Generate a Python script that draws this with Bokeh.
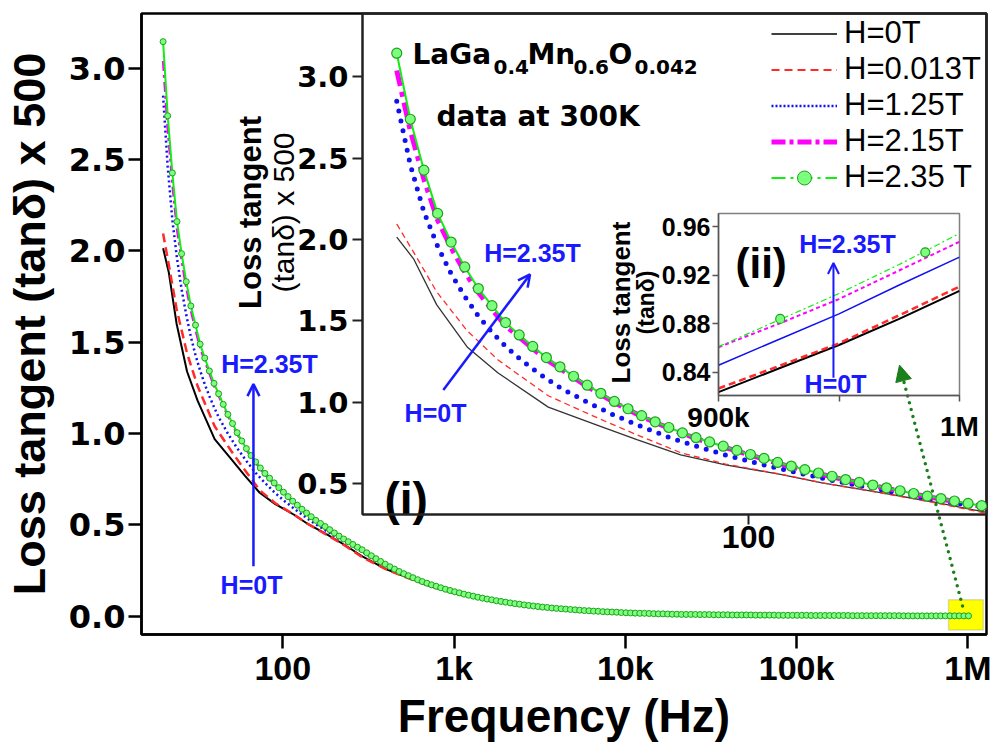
import math
from bokeh.plotting import figure
from bokeh.models import (Range1d, FixedTicker, PrintfTickFormatter, Label, Arrow, OpenHead, NormalHead,
                          BoxAnnotation, Legend, LegendItem, GridBox)
from bokeh.embed import file_html
from bokeh.resources import INLINE

# ---------------- data ----------------
# frequency sweep of the H=2.35 T curve (point list of the instrument: mantissas x decades)
SWEEP_MANTISSA = [2.000, 2.128, 2.265, 2.411, 2.565, 2.730, 2.905, 3.092, 3.290, 3.502, 3.726, 3.966,
                  4.220, 4.491, 4.780, 5.087, 5.413, 5.761, 6.131, 6.524, 6.943, 7.389, 7.864, 8.368,
                  8.906, 9.478, 10.086, 10.734, 11.423, 12.156, 12.937, 13.768, 14.652, 15.592, 16.594,
                  17.659, 18.793]
SWEEP_DECADES = [10, 100, 1000, 10000, 100000]
FREQ_SWEEP = [m * d for d in SWEEP_DECADES for m in SWEEP_MANTISSA][:175]

H235T = [3.146, 2.740, 2.427, 2.161, 1.985, 1.832, 1.699, 1.594, 1.490, 1.414, 1.343, 1.275, 1.218,
         1.160, 1.105, 1.055, 1.005, 0.960, 0.918, 0.880, 0.845, 0.812, 0.782, 0.756, 0.730, 0.704,
         0.679, 0.655, 0.630, 0.608, 0.586, 0.565, 0.545, 0.525, 0.508, 0.491, 0.474,
         0.456, 0.439, 0.423, 0.408, 0.393, 0.378, 0.364, 0.347, 0.331, 0.315, 0.300, 0.285, 0.271,
         0.258, 0.245, 0.233, 0.222, 0.211, 0.200, 0.190, 0.181, 0.172, 0.164, 0.156, 0.148, 0.141,
         0.134, 0.128, 0.121, 0.115, 0.110, 0.104, 0.099, 0.094, 0.090, 0.085, 0.081,
         0.077, 0.073, 0.069, 0.066, 0.062, 0.059, 0.056, 0.053, 0.050, 0.048, 0.045, 0.043, 0.041,
         0.039, 0.037, 0.035, 0.033, 0.031, 0.030, 0.028, 0.027, 0.025, 0.024, 0.023, 0.022, 0.020,
         0.019, 0.018, 0.017, 0.016, 0.016, 0.015, 0.014, 0.013, 0.013, 0.012, 0.011,
         0.011, 0.010, 0.010, 0.010, 0.010, 0.009, 0.009, 0.009, 0.008, 0.008, 0.008, 0.008, 0.007,
         0.007, 0.007, 0.007, 0.007, 0.006, 0.006, 0.006, 0.006, 0.006, 0.005, 0.005, 0.005, 0.005,
         0.005, 0.005, 0.005, 0.004, 0.004, 0.004, 0.004, 0.004, 0.004, 0.004, 0.004,
         0.004, 0.003, 0.003, 0.003, 0.003, 0.003, 0.003, 0.003, 0.003, 0.003, 0.003, 0.003, 0.002,
         0.002, 0.002, 0.002, 0.002, 0.002, 0.002, 0.002, 0.002, 0.002, 0.002, 0.002, 0.002, 0.002,
         0.002]

FREQ_A = [20, 21.6, 24.0, 27.6, 31.8, 40, 50, 60, 73.3, 90, 115.7, 140, 182.9, 230, 297, 400, 500,
          700, 1000, 1500, 2000, 3000, 5000, 7000, 10000, 20000, 50000, 100000, 200000, 500000, 1000000]
H0T = [2.015, 1.882, 1.60, 1.34, 1.18, 0.97, 0.86, 0.77, 0.676, 0.615, 0.557, 0.505, 0.445, 0.39,
       0.323, 0.258, 0.222, 0.170, 0.127, 0.091, 0.072, 0.051, 0.033, 0.025, 0.018, 0.010, 0.006,
       0.004, 0.003, 0.002, 0.002]
H0013T = [2.096, 1.923, 1.68, 1.44, 1.26, 1.04, 0.905, 0.80, 0.69, 0.62, 0.558, 0.505, 0.443, 0.387,
          0.318, 0.258, 0.220, 0.169, 0.126, 0.091, 0.072, 0.051, 0.033, 0.025, 0.018, 0.010, 0.006,
          0.004, 0.003, 0.002, 0.002]

FREQ_B = [20.0, 21.28, 22.65, 24.11, 25.65, 27.30, 29.05, 30.92, 32.90, 35.02, 37.26, 39.66, 42.20,
          47.80, 54.13, 61.31, 69.43, 78.64, 89.06, 100.86, 114.23, 129.37, 146.52, 165.94, 187.93,
          212.83, 241.04, 272.98, 309.18, 396.6, 508.7, 652.4, 836.8, 1000, 1500, 2000, 3000, 5000,
          7000, 10000, 20000, 50000, 100000, 200000, 500000, 1000000]
H125T = [2.85, 2.46, 2.17, 1.96, 1.79, 1.65, 1.53, 1.43, 1.345, 1.27, 1.205, 1.145, 1.09, 1.0, 0.92,
         0.85, 0.785, 0.73, 0.68, 0.635, 0.595, 0.557, 0.52, 0.487, 0.456, 0.425, 0.396, 0.367, 0.338,
         0.278, 0.229, 0.187, 0.153, 0.132, 0.095, 0.075, 0.053, 0.034, 0.025, 0.018, 0.011, 0.0066,
         0.0047, 0.0034, 0.0023, 0.0017]
H215T = [3.04, 2.67, 2.37, 2.12, 1.95, 1.80, 1.675, 1.57, 1.47, 1.40, 1.33, 1.262, 1.208, 1.097,
         0.998, 0.912, 0.84, 0.777, 0.725, 0.675, 0.625, 0.582, 0.541, 0.504, 0.471, 0.436, 0.405,
         0.375, 0.344, 0.282, 0.232, 0.189, 0.155, 0.134, 0.096, 0.076, 0.053, 0.035, 0.026, 0.019,
         0.011, 0.0067, 0.0048, 0.0035, 0.0024, 0.0018]

# inset (ii): 900 kHz - 1 MHz, tan(delta)
ZOOM_FREQ = [900000, 925000, 950000, 975000, 1000000]
ZOOM_H0T = [0.8235, 0.843, 0.8624, 0.884, 0.9072]
ZOOM_H0013T = [0.8265, 0.845, 0.8638, 0.887, 0.9107]
ZOOM_H125T = [0.8457, 0.867, 0.8882, 0.912, 0.9351]
ZOOM_H215T = [0.8606, 0.880, 0.9004, 0.924, 0.9478]
ZOOM_H235T = [0.8611, 0.883, 0.9050, 0.929, 0.9546]
ZOOM_MARK_FREQ = [925600, 985800]
ZOOM_MARK_H235T = [0.884, 0.939]

SERIES_LABELS = ["H=0T", "H=0.013T", "H=1.25T", "H=2.15T", "H=2.35 T"]
MAIN_X_TICKS = [100, 1000, 10000, 100000, 1000000]
MAIN_X_LABELS = ["100", "1k", "10k", "100k", "1M"]
MAIN_Y_TICKS = [0.0, 0.5, 1.0, 1.5, 2.0, 2.5, 3.0]
IN1_X_TICKS = [100]
IN1_X_LABELS = ["100"]
IN1_Y_TICKS = [0.5, 1.0, 1.5, 2.0, 2.5, 3.0]
IN2_X_TICKS = [900000, 950000, 1000000]
IN2_X_LABELS = ["900k", "", "1M"]
IN2_Y_TICKS = [0.84, 0.88, 0.92, 0.96]

BLACK, RED, BLUE, MAG, GREEN = "#000000", "#ff2a2a", "#1010f0", "#ff00ff", "#11ee11"
ARROW_BLUE = "#1a1aff"
MK_FILL, MK_LINE = "#7cff7c", "#1fa01f"

# every figure shares the same borders (the grid aligns them)
BL, BR, BT, BB = 141, 9, 13, 107


def style_axis(ax, font, size, tick_out, lw, standoff, color="black"):
    ax.axis_line_width = lw
    ax.axis_line_color = color
    ax.major_tick_line_width = lw
    ax.major_tick_line_color = color
    ax.major_tick_out = tick_out
    ax.major_tick_in = 0
    ax.minor_tick_line_color = None
    ax.major_label_text_font = font
    ax.major_label_text_font_size = size
    ax.major_label_text_font_style = "bold"
    ax.major_label_text_color = "black"
    ax.major_label_standoff = standoff


# ---------------- main plot ----------------
p = figure(width=995, height=744, x_axis_type="log",
           x_range=Range1d(14.96, 1.285e6), y_range=Range1d(-0.10, 3.30),
           min_border_left=BL, min_border_right=BR, min_border_top=BT, min_border_bottom=BB,
           output_backend="svg", toolbar_location=None)
p.grid.visible = False
p.outline_line_color = "black"
p.outline_line_width = 2.5
p.xaxis.ticker = FixedTicker(ticks=MAIN_X_TICKS)
p.xaxis.major_label_overrides = dict(zip(MAIN_X_TICKS, MAIN_X_LABELS))
p.yaxis.ticker = FixedTicker(ticks=MAIN_Y_TICKS)
p.yaxis.formatter = PrintfTickFormatter(format="%.1f")
style_axis(p.xaxis[0], "Liberation Sans", "34px", 14, 2.5, 0)
style_axis(p.yaxis[0], "DejaVu Sans", "32px", 13, 2.5, 3)
p.xaxis.axis_label = "Frequency (Hz)"
p.yaxis.axis_label = "Loss tangent (tan\u03b4) x 500"
for ax, sz, so in ((p.xaxis[0], "46px", 0), (p.yaxis[0], "45px", 11)):
    ax.axis_label_text_font = "Liberation Sans"
    ax.axis_label_text_font_size = sz
    ax.axis_label_text_font_style = "bold"
    ax.axis_label_text_color = "black"
    ax.axis_label_standoff = so

p.add_layout(BoxAnnotation(left=771000, right=1230000, bottom=-0.076, top=0.09, fill_color="#ffff00",
                           fill_alpha=1.0, line_color="#8a8a8a", line_width=1.5, level="underlay"))

p.line(FREQ_A, H0T, line_color=BLACK, line_width=2)
p.line(FREQ_A, H0013T, line_color=RED, line_width=2.5, line_dash="9 5")
p.line(FREQ_B, H125T, line_color=BLUE, line_width=2.5, line_dash="2 3")
p.line(FREQ_B, H215T, line_color=MAG, line_width=2.5, line_dash="10 4 3 4")
p.line(FREQ_SWEEP, H235T, line_color=GREEN, line_width=2)
p.scatter(FREQ_SWEEP, H235T, marker="circle", size=6, fill_color=MK_FILL, line_color=MK_LINE, line_width=1)

# arrows in main plot
p.add_layout(Arrow(x_start=67.4, y_start=0.274, x_end=67.4, y_end=1.271, line_color=ARROW_BLUE,
                   line_width=2.5, end=OpenHead(size=12, line_color=ARROW_BLUE, line_width=2.5)))
p.add_layout(Arrow(x_start=931000, y_start=0.056, x_end=399000, y_end=1.375, line_color="#1b7f1b",
                   line_width=3.5, line_dash="0 7", line_cap="round",
                   end=NormalHead(size=16, fill_color="#1b7f1b", line_color="#1b7f1b")))


def txt(text, x, y, size, font="Liberation Sans", style="bold", color="black", align="left",
        baseline="alphabetic", angle=0.0):
    p.add_layout(Label(x=x, y=y, x_units="canvas", y_units="canvas", text=text,
                       text_font=font, text_font_size=f"{size}px", text_font_style=style,
                       text_color=color, text_align=align, text_baseline=baseline, angle=angle))


ROT = math.pi / 2
# formula with subscripts
txt("LaGa", 412, 54, 28, font="DejaVu Sans")
txt("0.4", 493, 66, 20, font="DejaVu Sans")
txt("Mn", 527, 54, 28, font="DejaVu Sans")
txt("0.6", 573, 66, 20, font="DejaVu Sans")
txt("O", 608, 54, 28, font="DejaVu Sans")
txt("0.042", 634, 66, 20, font="DejaVu Sans")
txt("data at 300K", 436, 116, 28, font="DejaVu Sans")
txt("(i)", 384, 498, 46)
txt("(ii)", 735, 263, 42)
# blue field labels
txt("H=2.35T", 269, 363, 25, color=ARROW_BLUE, align="center", baseline="middle")
txt("H=0T", 251, 584, 25, color=ARROW_BLUE, align="center", baseline="middle")
txt("H=2.35T", 532, 252, 25, color=ARROW_BLUE, align="center", baseline="middle")
txt("H=0T", 435, 412, 25, color=ARROW_BLUE, align="center", baseline="middle")
txt("H=2.35T", 847, 243, 25, color=ARROW_BLUE, align="center", baseline="middle")
txt("H=0T", 835, 383, 25, color=ARROW_BLUE, align="center", baseline="middle")
# inset axis titles
txt("Loss tangent", 250, 212, 31, align="center", angle=ROT)
txt("(tan\u03b4) x 500", 283, 212, 30, style="normal", align="center", angle=ROT)
txt("Loss tangent", 620, 302, 26, align="center", angle=ROT)
txt("(tan\u03b4)", 645, 302, 23, align="center", angle=ROT)
# last tick label of inset (ii) (it overhangs that inset's canvas)
txt(IN2_X_LABELS[-1], 959, 410, 28, align="center", baseline="top")

# ---------------- inset (i) ----------------
W1, H1 = 624, 504
pi = figure(width=BL + W1 + BR, height=BT + H1 + BB, x_axis_type="log",
            x_range=Range1d(17.1, 297), y_range=Range1d(0.31, 3.39),
            min_border_left=BL, min_border_right=BR, min_border_top=BT, min_border_bottom=BB,
            margin=(13 - BT, 0, 0, 362 - BL), background_fill_alpha=0, border_fill_alpha=0,
            output_backend="svg", toolbar_location=None)
pi.grid.visible = False
pi.outline_line_color = "#222222"
pi.outline_line_width = 2
pi.xaxis.ticker = FixedTicker(ticks=IN1_X_TICKS)
pi.xaxis.major_label_overrides = dict(zip(IN1_X_TICKS, IN1_X_LABELS))
pi.yaxis.ticker = FixedTicker(ticks=IN1_Y_TICKS)
pi.yaxis.formatter = PrintfTickFormatter(format="%.1f")
style_axis(pi.xaxis[0], "Liberation Sans", "32px", 10, 2, 1, color="#222222")
style_axis(pi.yaxis[0], "DejaVu Sans", "29px", 10, 2, 4, color="#222222")

# legend keys: one-point renderers (a one-point line draws nothing; the dot sits under a real marker)
lg0 = pi.line(FREQ_A[:1], H0T[:1], line_color=BLACK, line_width=1.5)
lg1 = pi.line(FREQ_A[:1], H0013T[:1], line_color=RED, line_width=2, line_dash="8 5")
lg2 = pi.line(FREQ_B[:1], H125T[:1], line_color=BLUE, line_width=2.5, line_dash="2 2")
lg3 = pi.line(FREQ_B[:1], H215T[:1], line_color=MAG, line_width=5, line_dash="14 4 4 4")
lg4 = pi.line(FREQ_SWEEP[:1], H235T[:1], line_color=GREEN, line_width=2, line_dash="14 5 3 5")
lg4m = pi.scatter(FREQ_SWEEP[:1], H235T[:1], marker="circle", size=6, fill_color=MK_FILL, line_color=MK_LINE)

pi.line(FREQ_A, H0T, line_color="#333333", line_width=1.3)
pi.line(FREQ_A, H0013T, line_color=RED, line_width=1.3, line_dash="6 4")
pi.line(FREQ_B, H125T, line_color=BLUE, line_width=5, line_dash="0 10", line_cap="round")
pi.line(FREQ_B, H215T, line_color=MAG, line_width=5, line_dash="16 6 5 6")
pi.line(FREQ_SWEEP, H235T, line_color=GREEN, line_width=2)
pi.scatter(FREQ_SWEEP, H235T, marker="circle", size=10, fill_color=MK_FILL, line_color=MK_LINE, line_width=1.2)

pi.add_layout(Arrow(x_start=24.75, y_start=1.075, x_end=36.8, y_end=1.786, line_color=ARROW_BLUE,
                    line_width=2.5, end=OpenHead(size=12, line_color=ARROW_BLUE, line_width=2.5)))

legend = Legend(items=[LegendItem(label=SERIES_LABELS[0], renderers=[lg0]),
                       LegendItem(label=SERIES_LABELS[1], renderers=[lg1]),
                       LegendItem(label=SERIES_LABELS[2], renderers=[lg2]),
                       LegendItem(label=SERIES_LABELS[3], renderers=[lg3]),
                       LegendItem(label=SERIES_LABELS[4], renderers=[lg4, lg4m])],
                location=(409, 319), glyph_width=66, glyph_height=35, label_height=35, spacing=0,
                padding=0, margin=0, border_line_color=None, background_fill_alpha=0,
                label_text_font="Liberation Sans", label_text_font_size="31px",
                label_text_color="black", label_standoff=7)
pi.add_layout(legend)

# ---------------- inset (ii) ----------------
W2, H2 = 241, 185
pz = figure(width=BL + W2 + BR, height=BT + H2 + BB,
            x_range=Range1d(900000, 1000000), y_range=Range1d(0.8207, 0.9711),
            min_border_left=BL, min_border_right=BR, min_border_top=BT, min_border_bottom=BB,
            margin=(213 - BT, 0, 0, 718 - BL), background_fill_alpha=0, border_fill_alpha=0,
            output_backend="svg", toolbar_location=None)
pz.grid.visible = False
pz.outline_line_color = "#808080"
pz.outline_line_width = 1.5
pz.xaxis.ticker = FixedTicker(ticks=IN2_X_TICKS)
pz.xaxis.major_label_overrides = dict(zip(IN2_X_TICKS, IN2_X_LABELS[:-1] + [""]))
pz.yaxis.ticker = FixedTicker(ticks=IN2_Y_TICKS)
pz.yaxis.formatter = PrintfTickFormatter(format="%.2f")
style_axis(pz.xaxis[0], "Liberation Sans", "28px", 6, 1.5, 0, color="#555555")
style_axis(pz.yaxis[0], "Liberation Sans", "25px", 6, 1.5, 2, color="#555555")

pz.line(ZOOM_FREQ, ZOOM_H0T, line_color=BLACK, line_width=2)
pz.line(ZOOM_FREQ, ZOOM_H0013T, line_color=RED, line_width=2.5, line_dash="7 4")
pz.line(ZOOM_FREQ, ZOOM_H125T, line_color=BLUE, line_width=1.5)
pz.line(ZOOM_FREQ, ZOOM_H215T, line_color=MAG, line_width=2, line_dash="4 3")
pz.line(ZOOM_FREQ, ZOOM_H235T, line_color=GREEN, line_width=1.2, line_dash="6 3 2 3")
pz.scatter(ZOOM_MARK_FREQ, ZOOM_MARK_H235T, marker="circle", size=9, fill_color=MK_FILL,
           line_color=MK_LINE, line_width=1.2)
pz.add_layout(Arrow(x_start=947700, y_start=0.8354, x_end=947700, y_end=0.9302, line_color=ARROW_BLUE,
                    line_width=2, end=OpenHead(size=11, line_color=ARROW_BLUE, line_width=2)))

grid = GridBox(children=[(p, 0, 0), (pi, 0, 0), (pz, 0, 0)])

open("out.html", "w").write(file_html(grid, INLINE))
